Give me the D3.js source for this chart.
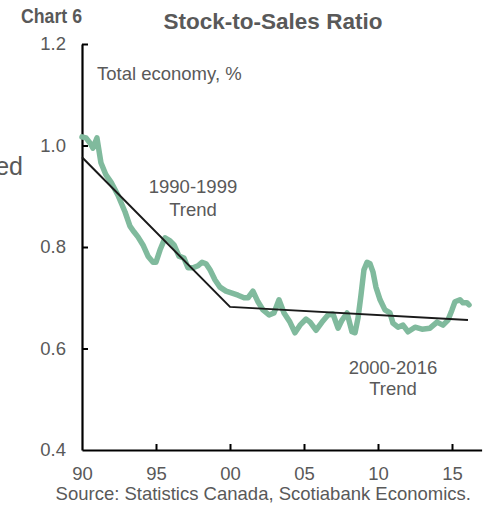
<!DOCTYPE html>
<html>
<head>
<meta charset="utf-8">
<script src="https://cdn.jsdelivr.net/npm/d3@7"></script>
<style>
  html, body { margin: 0; padding: 0; background: #fff; }
  svg { display: block; font-family: "Liberation Sans", Arial, sans-serif; }
</style>
</head>
<body>
<svg id="chart" width="487" height="505"></svg>
<script>
// ---- data ----
const dates = [1990.00,1990.27,1990.54,1990.74,1991.01,1991.28,1991.62,1991.96,1992.43,1992.91,
  1993.24,1993.51,1993.78,1994.12,1994.46,1994.80,1995.00,1995.27,1995.61,1995.95,
  1996.22,1996.55,1996.89,1997.16,1997.50,1997.84,1998.11,1998.38,1998.65,1998.99,
  1999.32,1999.73,2000.14,2000.54,2000.95,2001.22,2001.55,2001.89,2002.23,2002.64,
  2002.97,2003.31,2003.65,2004.05,2004.39,2004.73,2005.14,2005.41,2005.81,2006.22,
  2006.62,2006.96,2007.30,2007.57,2007.91,2008.24,2008.45,2008.65,2008.85,2009.05,
  2009.26,2009.46,2009.66,2009.86,2010.14,2010.47,2010.81,2011.01,2011.35,2011.69,
  2012.03,2012.50,2012.97,2013.51,2013.99,2014.39,2014.73,2015.00,2015.20,2015.54,
  2015.74,2016.01,2016.15];
const ratio = [1.017,1.015,1.005,0.995,1.015,0.966,0.942,0.928,0.902,0.869,
  0.841,0.830,0.820,0.804,0.782,0.770,0.770,0.794,0.818,0.812,
  0.804,0.782,0.778,0.759,0.759,0.763,0.770,0.767,0.755,0.735,
  0.721,0.713,0.709,0.705,0.700,0.700,0.713,0.692,0.676,0.666,
  0.670,0.696,0.670,0.652,0.631,0.646,0.658,0.652,0.636,0.652,
  0.666,0.668,0.640,0.656,0.670,0.633,0.631,0.660,0.705,0.755,
  0.770,0.767,0.751,0.721,0.696,0.676,0.670,0.650,0.642,0.646,
  0.633,0.642,0.638,0.640,0.652,0.646,0.656,0.676,0.692,0.696,
  0.690,0.690,0.686];
const trend1Dates = [1990, 2000];
const trend1Values = [0.977, 0.682];
const trend2Dates = [2000, 2016.08];
const trend2Values = [0.682, 0.656];
const xTicks = [1990, 1995, 2000, 2005, 2010, 2015];
const yTicks = [0.4, 0.6, 0.8, 1.0, 1.2];

// ---- layout ----
const svg = d3.select("#chart");
const gray = "#595959";
const fs = 18.5;

const x = d3.scaleLinear().domain([1990, 2017]).range([82, 481.6]);
const y = d3.scaleLinear().domain([0.4, 1.2]).range([450, 44]);

// axes
const yAxis = d3.axisLeft(y).tickValues(yTicks).tickFormat(d3.format(".1f"))
  .tickSizeInner(-6).tickSizeOuter(0).tickPadding(16);
const xAxis = d3.axisBottom(x).tickValues(xTicks).tickFormat(d => String(d).slice(2))
  .tickSizeInner(-6).tickSizeOuter(0).tickPadding(16.5);

const gy = svg.append("g").attr("transform", "translate(82,0)").call(yAxis);
const gx = svg.append("g").attr("transform", "translate(0,450)").call(xAxis);
[gy, gx].forEach(g => {
  g.select(".domain").attr("stroke", "#000").attr("stroke-width", 2.2);
  g.selectAll(".tick line").attr("stroke", "#000").attr("stroke-width", 2);
  g.selectAll(".tick text").attr("fill", gray).style("font-size", fs + "px")
    .style("font-family", "'Liberation Sans', Arial, sans-serif");
});
gy.selectAll(".tick").filter(d => d === 0.4).select("line").remove();
gx.selectAll(".tick").filter(d => d === 1990).select("line").remove();

// series
const line = d3.line().x(d => x(d[0])).y(d => y(d[1]));
svg.append("path")
  .datum(dates.map((d, i) => [d, ratio[i]]))
  .attr("d", line)
  .attr("fill", "none")
  .attr("stroke", "#80ba9d")
  .attr("stroke-width", 5.5)
  .attr("stroke-linejoin", "round")
  .attr("stroke-linecap", "round");

svg.append("path")
  .datum(trend1Dates.map((d, i) => [d, trend1Values[i]]).concat(trend2Dates.slice(1).map((d, i) => [d, trend2Values[i + 1]])))
  .attr("d", line)
  .attr("fill", "none")
  .attr("stroke", "#1a1a1a")
  .attr("stroke-width", 2);

// texts
function txt(t, xx, yy, opts = {}) {
  const el = svg.append("text").attr("x", xx).attr("y", yy).text(t)
    .attr("fill", opts.fill || gray)
    .style("font-size", (opts.size || fs) + "px")
    .attr("text-anchor", opts.anchor || "start");
  if (opts.bold) el.style("font-weight", "bold");
  if (opts.len) el.attr("textLength", opts.len).attr("lengthAdjust", "spacingAndGlyphs");
  return el;
}
txt("Chart 6", 21, 23, { bold: true, size: 20.5, len: 61 });
txt("Stock-to-Sales Ratio", 273, 29, { bold: true, size: 22.5, anchor: "middle" });
txt("Total economy, %", 97, 80);
txt("1990-1999", 193, 193, { anchor: "middle" });
txt("Trend", 193, 216, { anchor: "middle" });
txt("2000-2016", 393, 374, { anchor: "middle" });
txt("Trend", 393, 395, { anchor: "middle" });
txt("ed", 23, 175, { size: 25, anchor: "end" });
txt("Source: Statistics Canada, Scotiabank Economics.", 471, 500, { anchor: "end" });
</script>
</body>
</html>
